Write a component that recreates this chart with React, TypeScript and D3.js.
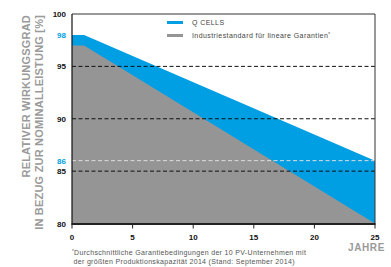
import React from "react";
import * as d3 from "d3";

// values
const years = [0, 1, 25];
const qcells = [98, 98, 86];
const industry = [97, 97, 80];
const yTicks = [80, 85, 90, 95, 100];
const xTicks = [0, 5, 10, 15, 20, 25];
const highlightTicks = [98, 86];
const gridLines = [95, 90, 85];

const BLUE = "#009fe3";
const GREY = "#959595";

export default function App() {
  const width = 391;
  const height = 267;
  const x = d3.scaleLinear().domain([0, 25]).range([72, 375]);
  const y = d3.scaleLinear().domain([80, 100]).range([223.5, 14]);

  const area = d3
    .area<number>()
    .x((d, i) => x(years[i]))
    .y0(y(80))
    .y1(d => d);

  const blueArea = area(qcells.map(v => y(v))) || "";
  const greyArea = area(industry.map(v => y(v))) || "";

  const font = "'Liberation Sans', Arial, sans-serif";

  return (
    <svg
      width={width}
      height={height}
      style={{ position: "absolute", left: 0, top: 0 }}
      fontFamily={font}
    >
      <path d={blueArea} fill={BLUE} />
      <path d={greyArea} fill={GREY} />

      {gridLines.map(v => (
        <line
          key={v}
          x1={x(0)}
          x2={x(25)}
          y1={y(v)}
          y2={y(v)}
          stroke="#111"
          strokeWidth={1}
          strokeDasharray="4,2.5"
        />
      ))}
      <line
        x1={x(0)}
        x2={x(25)}
        y1={y(86)}
        y2={y(86)}
        stroke="#dcdcdc"
        strokeWidth={1}
        strokeDasharray="4,2.5"
      />

      {/* frame */}
      <line x1={x(0)} x2={x(25)} y1={y(100)} y2={y(100)} stroke="#333" strokeWidth={1} />
      <line x1={x(25)} x2={x(25)} y1={y(100)} y2={y(80)} stroke="#333" strokeWidth={1} />
      <line x1={x(0)} x2={x(0)} y1={y(100)} y2={y(80)} stroke="#111" strokeWidth={1.2} />
      <line x1={x(0) - 0.6} x2={x(25) + 0.5} y1={y(80) + 0.5} y2={y(80) + 0.5} stroke="#222" strokeWidth={2} />
      {xTicks.map(t => (
        <line key={t} x1={x(t)} x2={x(t)} y1={y(80)} y2={y(80) + 5} stroke="#222" strokeWidth={1} />
      ))}

      {/* y tick labels */}
      {yTicks.map(t => (
        <text key={t} x={66} y={y(t) + 3} textAnchor="end" fontSize={8} fontWeight={700} fill="#111">
          {t}
        </text>
      ))}
      {highlightTicks.map(t => (
        <text key={t} x={66} y={y(t) + 3} textAnchor="end" fontSize={8} fontWeight={700} fill={BLUE}>
          {t}
        </text>
      ))}

      {/* x tick labels */}
      {xTicks.map(t => (
        <text key={t} x={x(t)} y={240} textAnchor="middle" fontSize={8} fontWeight={700} fill="#111">
          {t}
        </text>
      ))}
      <text x={348} y={251} fontSize={10} fontWeight={700} fill="#9a9a9a" letterSpacing={0.6}>
        JAHRE
      </text>

      {/* y axis title */}
      <text
        transform="translate(29.5,15) rotate(-90)"
        textAnchor="end"
        fontSize={11}
        fontWeight={700}
        fill="#9a9a9a"
        letterSpacing={0.2}
      >
        RELATIVER WIRKUNGSGRAD
      </text>
      <text
        transform="translate(43,15) rotate(-90)"
        textAnchor="end"
        fontSize={11}
        fontWeight={700}
        fill="#9a9a9a"
        letterSpacing={0.2}
      >
        IN BEZUG ZUR NOMINALLEISTUNG [%]
      </text>

      {/* legend */}
      <rect x={167} y={21} width={16} height={3} fill={BLUE} />
      <text x={192} y={24.5} fontSize={7} fill="#444" letterSpacing={0.42}>
        Q CELLS
      </text>
      <rect x={167} y={34} width={16} height={3} fill={GREY} />
      <text x={192} y={37.5} fontSize={7} fill="#444" letterSpacing={0.42}>
        Industriestandard für lineare Garantien
        <tspan fontSize={4.5} dy={-2}>*</tspan>
      </text>

      {/* footnote */}
      <text x={72} y={255} fontSize={7} fill="#555" letterSpacing={0.33}>
        <tspan fontSize={4.5} dy={-2}>*</tspan>
        <tspan dy={2}>Durchschnittliche Garantiebedingungen der 10 PV-Unternehmen mit</tspan>
      </text>
      <text x={73.5} y={264} fontSize={7} fill="#555" letterSpacing={0.33}>
        der größten Produktionskapazität 2014 (Stand: September 2014)
      </text>
    </svg>
  );
}
